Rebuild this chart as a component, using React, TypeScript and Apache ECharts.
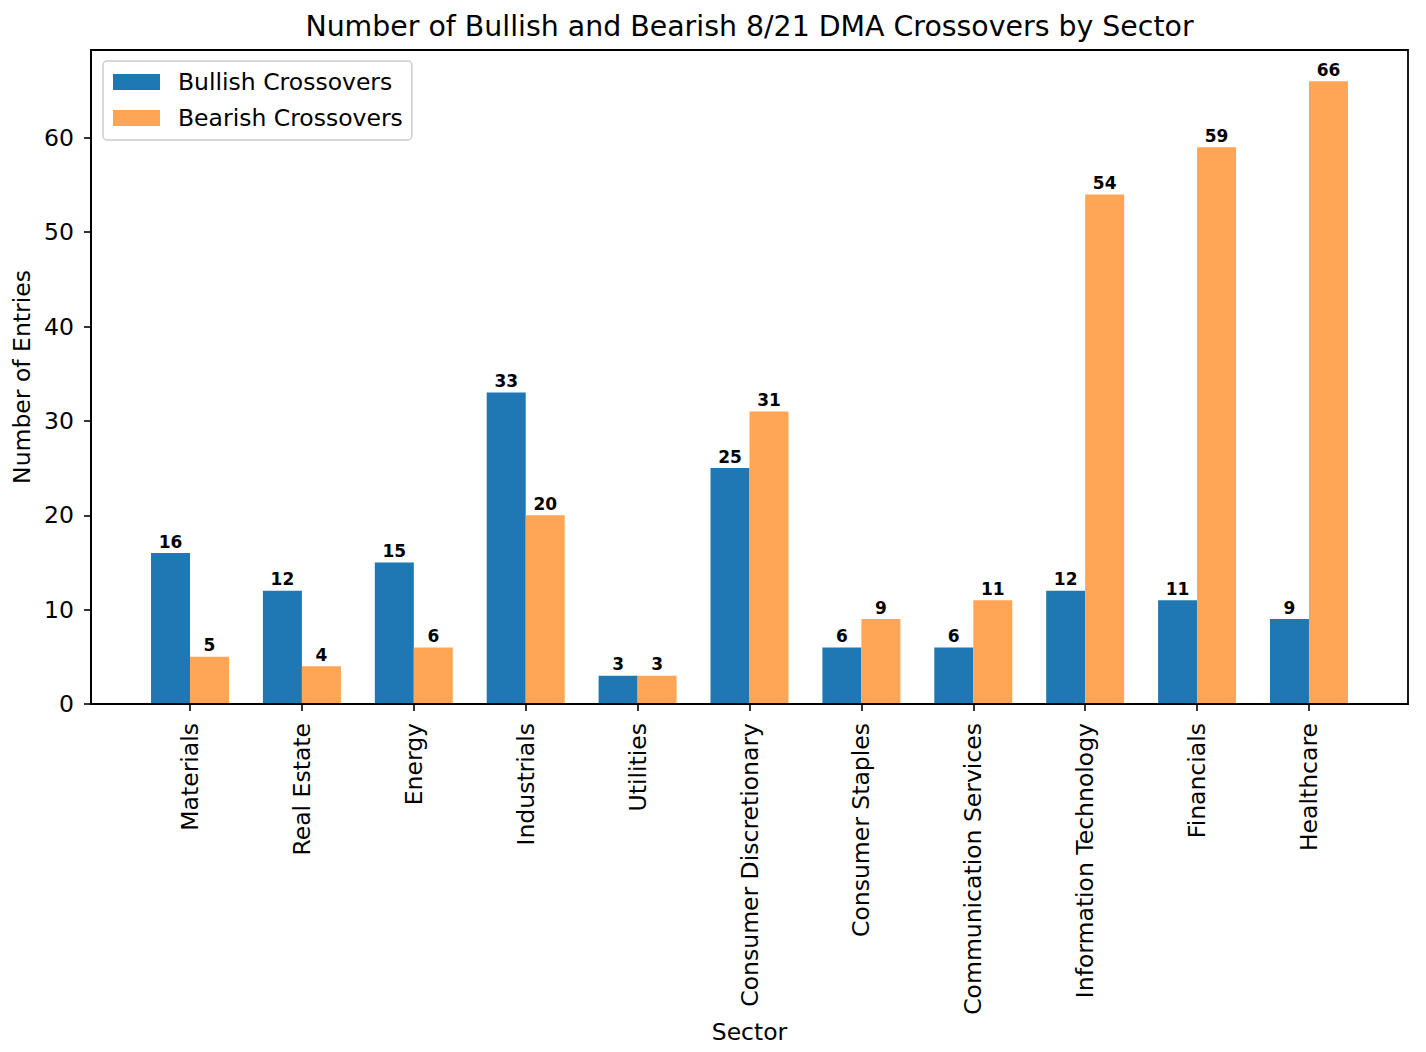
import React, { useEffect, useRef } from "react";
import * as echarts from "echarts";

const sectors = [
  "Materials",
  "Real Estate",
  "Energy",
  "Industrials",
  "Utilities",
  "Consumer Discretionary",
  "Consumer Staples",
  "Communication Services",
  "Information Technology",
  "Financials",
  "Healthcare",
];
const bullish = [16, 12, 15, 33, 3, 25, 6, 6, 12, 11, 9];
const bearish = [5, 4, 6, 20, 3, 31, 9, 11, 54, 59, 66];
const yTicks = [0, 10, 20, 30, 40, 50, 60];

const FONT = "DejaVu Sans";
const GRID = { left: 91, top: 50, width: 1317, height: 654 };

export default function App() {
  const ref = useRef<HTMLDivElement>(null);
  useEffect(() => {
    document.body.style.margin = "0";
    const chart = echarts.init(ref.current!, null, { renderer: "svg" });
    const xIdx = sectors.map((_, i) => i);
    const labelStyle = {
      show: true,
      position: "top",
      distance: 3,
      fontFamily: FONT,
      fontWeight: "bold",
      fontSize: 17,
      color: "#000",
    };
    chart.setOption({
      animation: false,
      backgroundColor: "#fff",
      textStyle: { fontFamily: FONT },
      grid: { ...GRID, containLabel: false },
      legend: {
        left: 103,
        top: 61,
        orient: "vertical",
        padding: [9, 9, 10, 10],
        itemGap: 12,
        itemWidth: 47,
        itemHeight: 16,
        icon: "rect",
        borderColor: "#cccccc",
        borderWidth: 1.5,
        borderRadius: 4,
        backgroundColor: "rgba(255,255,255,0.8)",
        textStyle: {
          fontFamily: FONT,
          fontSize: 23.5,
          color: "#000",
          padding: [0, 0, 0, 13],
          lineHeight: 22,
        },
        data: ["Bullish Crossovers", "Bearish Crossovers"],
      },
      xAxis: {
        type: "value",
        min: -0.885,
        max: 10.885,
        splitLine: { show: false },
        axisLine: { show: true, onZero: false, lineStyle: { color: "#000", width: 1.8 } },
        axisTick: {
          show: true,
          length: 7,
          lineStyle: { color: "#000", width: 1.6 },
          customValues: xIdx,
        },
        axisLabel: {
          customValues: xIdx,
          rotate: 90,
          margin: 19,
          fontFamily: FONT,
          fontSize: 23.5,
          color: "#000",
          formatter: (v: number) => sectors[Math.round(v)] ?? "",
        },
      },
      yAxis: {
        type: "value",
        min: 0,
        max: 69.3,
        splitLine: { show: false },
        axisLine: { show: true, onZero: false, lineStyle: { color: "#000", width: 1.8 } },
        axisTick: {
          show: true,
          length: 7,
          lineStyle: { color: "#000", width: 1.6 },
          customValues: yTicks,
        },
        axisLabel: {
          customValues: yTicks,
          margin: 17,
          fontFamily: FONT,
          fontSize: 23.5,
          color: "#000",
        },
      },
      series: [
        {
          name: "Bullish Crossovers",
          type: "bar",
          barWidth: 39,
          barGap: "0%",
          itemStyle: { color: "#1f77b4" },
          label: labelStyle,
          data: bullish.map((v, i) => [i, v]),
        },
        {
          name: "Bearish Crossovers",
          type: "bar",
          barWidth: 39,
          barGap: "0%",
          itemStyle: { color: "#ffa556" },
          label: labelStyle,
          data: bearish.map((v, i) => [i, v]),
        },
      ],
      graphic: [
        {
          type: "rect",
          silent: true,
          z: 10,
          shape: { x: GRID.left, y: GRID.top, width: GRID.width, height: GRID.height },
          style: { fill: "none", stroke: "#000", lineWidth: 1.8 },
        },
        {
          type: "text",
          x: GRID.left + GRID.width / 2,
          y: 26,
          style: {
            text: "Number of Bullish and Bearish 8/21 DMA Crossovers by Sector",
            font: `28.4px '${FONT}'`,
            fill: "#000",
            textAlign: "center",
            textVerticalAlign: "middle",
          },
        },
        {
          type: "text",
          x: GRID.left + GRID.width / 2,
          y: 1032,
          style: {
            text: "Sector",
            font: `23.5px '${FONT}'`,
            fill: "#000",
            textAlign: "center",
            textVerticalAlign: "middle",
          },
        },
        {
          type: "text",
          x: 22,
          y: GRID.top + GRID.height / 2,
          rotation: Math.PI / 2,
          style: {
            text: "Number of Entries",
            font: `23.5px '${FONT}'`,
            fill: "#000",
            textAlign: "center",
            textVerticalAlign: "middle",
          },
        },
      ],
    });
    return () => chart.dispose();
  }, []);
  return <div ref={ref} style={{ width: 1426, height: 1052 }} />;
}
